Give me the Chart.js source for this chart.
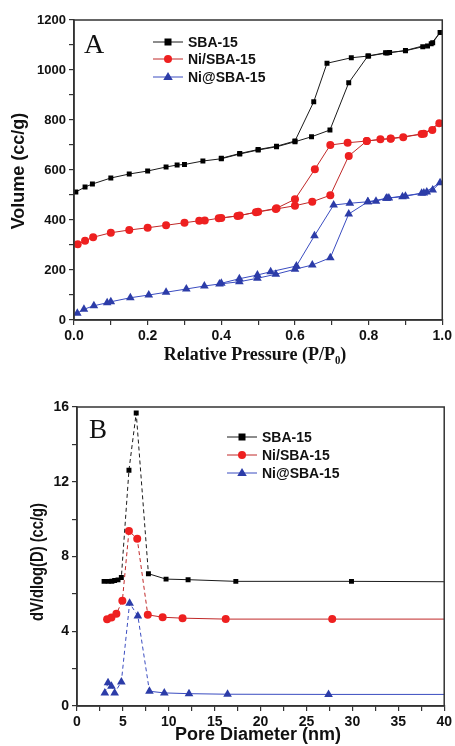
<!DOCTYPE html>
<html>
<head>
<meta charset="utf-8">
<script src="https://cdn.jsdelivr.net/npm/chart.js@4/dist/chart.umd.min.js"></script>
<style>
html,body{margin:0;padding:0;background:#fff;}
#wrap{position:relative;width:455px;height:746px;}
canvas{position:absolute;left:0;}
#cA{top:0;}
#cB{top:370px;}
</style>
</head>
<body>
<div id="wrap">
<canvas id="cA" width="455" height="370"></canvas>
<canvas id="cB" width="455" height="376"></canvas>
</div>
<script>
// ---------- Data: panel A (N2 isotherms; adsorption then desorption) ----------
const seriesNames = ['SBA-15', 'Ni/SBA-15', 'Ni@SBA-15'];

const sbaP = [0.005,0.03,0.05,0.1,0.15,0.2,0.25,0.28,0.3,0.35,0.4,0.45,0.5,0.55,0.6,0.645,0.695,0.746,0.798,0.846,0.857,0.9,0.947,0.96,0.974,0.994,
              0.97,0.9,0.85,0.8,0.753,0.687,0.651,0.6,0.55,0.5,0.45,0.4];
const sbaV = [512,532,544,568,584,596,612,620,622,636,645,664,680,693,713,733,760,949,1056,1069,1070,1077,1093,1096,1109,1150,
              1105,1078,1068,1056,1049,1027,873,716,695,682,666,647];

const niP = [0.01,0.03,0.052,0.1,0.15,0.2,0.25,0.3,0.34,0.355,0.393,0.444,0.494,0.548,0.6,0.647,0.696,0.746,0.795,0.832,0.86,0.894,0.944,0.973,0.992,
             0.95,0.86,0.795,0.743,0.696,0.654,0.6,0.55,0.5,0.45,0.4];
const niV = [303,317,331,349,360,369,379,389,397,398,407,416,431,444,457,473,499,656,716,723,725,731,744,760,787,
             745,726,716,709,700,603,483,447,433,418,408];

const atP = [0.009,0.027,0.054,0.09,0.1,0.153,0.203,0.25,0.305,0.354,0.395,0.449,0.498,0.548,0.6,0.647,0.696,0.746,0.798,0.82,0.848,0.855,0.892,0.9,0.944,0.958,0.974,0.994,
             0.95,0.85,0.798,0.749,0.705,0.653,0.604,0.534,0.498,0.449,0.4];
const atV = [27,43,57,69,73,89,100,111,124,136,144,153,167,183,203,220,249,424,473,475,487,488,493,495,507,512,520,549,
             508,487,473,467,460,337,216,193,180,165,147];

// ---------- Data: panel B (pore size distribution) ----------
const sbaD  = [2.95,3.4,3.8,4.1,4.47,4.83,5.66,6.45,7.78,9.7,12.1,17.3,29.9,40];
const sbaDV = [6.67,6.67,6.68,6.72,6.75,6.88,12.62,15.68,7.08,6.79,6.76,6.67,6.67,6.65];
const niD   = [3.28,3.75,4.29,4.94,5.66,6.56,7.71,9.33,11.5,16.2,27.8,40];
const niDV  = [4.64,4.73,4.93,5.63,9.36,8.95,4.88,4.75,4.70,4.65,4.65,4.65];
const atD   = [3.03,3.38,3.75,4.1,4.83,5.73,6.63,7.89,9.51,12.2,16.4,27.4,40];
const atDV  = [0.70,1.24,1.06,0.70,1.29,5.50,4.82,0.79,0.70,0.66,0.63,0.62,0.62];

// ---------- Axis ticks ----------
const aXMajor = [0,0.2,0.4,0.6,0.8,1.0];
const aYMajor = [0,200,400,600,800,1000,1200];
const bXMajor = [0,5,10,15,20,25,30,35,40];
const bYMajor = [0,4,8,12,16];

// ---------- Styles ----------
const styles = [
  {fill:'#000000', line:'#1a1a1a', shape:'rect'},
  {fill:'#ee2020', line:'#c02828', shape:'circle'},
  {fill:'#2c3ca8', line:'#3a4cc0', shape:'triangle'}
];
const SANS = '"Liberation Sans", Arial, sans-serif';
const SERIF = '"Liberation Serif", "Times New Roman", serif';

function pts(xs, ys){ return xs.map((x,i)=>({x:x, y:ys[i]})); }
function isMajor(v, list){ return list.some(m => Math.abs(m - v) < 1e-6); }

function drawMarker(ctx, shape, x, y, color){
  ctx.save();
  ctx.fillStyle = color;
  ctx.beginPath();
  if (shape === 'rect') { ctx.rect(x-3.5, y-3.5, 7, 7); }
  else if (shape === 'circle') { ctx.arc(x, y, 4, 0, Math.PI*2); }
  else { const r = 5; ctx.moveTo(x, y-r); ctx.lineTo(x+r*0.95, y+r*0.6); ctx.lineTo(x-r*0.95, y+r*0.6); ctx.closePath(); }
  ctx.fill();
  ctx.restore();
}

function frameAndText(cfg){
  return {
    id:'frameText',
    afterDraw(chart){
      const ctx = chart.ctx, a = chart.chartArea;
      ctx.save();
      ctx.strokeStyle = '#333'; ctx.lineWidth = 1.5;
      ctx.strokeRect(a.left, a.top, a.right - a.left, a.bottom - a.top);
      // panel letter
      ctx.fillStyle = '#111';
      ctx.font = cfg.letterFont; ctx.textAlign = 'left'; ctx.textBaseline = 'alphabetic';
      ctx.fillText(cfg.letter, cfg.letterX, cfg.letterY);
      // legend
      cfg.legend.rows.forEach((ry, i) => {
        const st = styles[i];
        ctx.strokeStyle = st.line; ctx.lineWidth = 1;
        ctx.beginPath(); ctx.moveTo(cfg.legend.x0, ry); ctx.lineTo(cfg.legend.x1, ry); ctx.stroke();
        drawMarker(ctx, st.shape, (cfg.legend.x0 + cfg.legend.x1)/2, ry, st.fill);
        ctx.fillStyle = '#111'; ctx.font = 'bold 14px ' + SANS; ctx.textBaseline = 'middle';
        ctx.fillText(seriesNames[i], cfg.legend.tx, ry + 1);
      });
      // axis titles
      ctx.fillStyle = '#111';
      ctx.font = cfg.xTitleFont; ctx.textAlign = 'center'; ctx.textBaseline = 'middle';
      ctx.fillText(cfg.xTitle, cfg.xTitleX, cfg.xTitleY);
      ctx.translate(cfg.yTitleX, cfg.yTitleY); ctx.rotate(-Math.PI/2);
      ctx.scale(cfg.yTitleScale || 1, 1);
      ctx.font = cfg.yTitleFont;
      ctx.fillText(cfg.yTitle, 0, 0);
      ctx.restore();
    }
  };
}

function makeDatasets(groups, dashed){
  return groups.map((g, i) => ({
    label: seriesNames[i],
    data: pts(g[0], g[1]),
    showLine: true,
    borderColor: styles[i].line,
    backgroundColor: styles[i].fill,
    borderWidth: 1,
    pointStyle: styles[i].shape,
    pointRadius: c => (c.raw && c.raw.x >= 40) ? 0 : (styles[i].shape === 'rect' ? 3.5 : (styles[i].shape === 'circle' ? 4 : 5)),
    pointBorderWidth: 0,
    pointBorderColor: styles[i].fill,
    segment: dashed ? { borderDash: c => (c.p0.parsed.x < 8 && c.p1.parsed.x < 9) ? [4,3] : undefined } : undefined,
    tension: 0
  }));
}

function axisCommon(){
  return {
    grid: {drawOnChartArea:false, drawTicks:true, tickLength:5, color:'#333', lineWidth:1.2},
    border: {color:'#333', width:1.5},
  };
}

Chart.defaults.font.family = SANS;
Chart.defaults.color = '#111';

// ---------- Chart A ----------
new Chart(document.getElementById('cA'), {
  type: 'scatter',
  data: { datasets: makeDatasets([[sbaP,sbaV],[niP,niV],[atP,atV]], false) },
  options: {
    responsive:false, animation:false, devicePixelRatio:1,
    layout:{padding:{top:20, right:11, left:0, bottom:0}},
    plugins:{legend:{display:false}, tooltip:{enabled:false}},
    scales:{
      x: Object.assign(axisCommon(), {
        type:'linear', min:0, max:1,
        afterFit(s){ s.height = 50; },
        ticks:{stepSize:0.1, autoSkip:false, maxRotation:0, padding:3, color:'#111',
               font:{size:14, weight:'bold'},
               callback: v => isMajor(v, aXMajor) ? v.toFixed(1) : ''}
      }),
      y: Object.assign(axisCommon(), {
        min:0, max:1200,
        afterFit(s){ s.width = 74; },
        ticks:{stepSize:100, autoSkip:false, padding:3, color:'#111',
               font:{size:13, weight:'bold'},
               callback: v => isMajor(v, aYMajor) ? String(Math.round(v)) : ''}
      })
    }
  },
  plugins:[frameAndText({
    letter:'A', letterFont:'28px ' + SERIF, letterX:84, letterY:53,
    legend:{x0:153, x1:183, tx:188, rows:[42,59,77]},
    xTitle:'Relative Pressure (P/P\u2080)', xTitleFont:'bold 18px ' + SERIF, xTitleX:255, xTitleY:355,
    yTitle:'Volume (cc/g)', yTitleFont:'bold 18px ' + SANS, yTitleX:19, yTitleY:171
  })]
});

// ---------- Chart B ----------
new Chart(document.getElementById('cB'), {
  type: 'scatter',
  data: { datasets: makeDatasets([[sbaD,sbaDV],[niD,niDV],[atD,atDV]], true) },
  options: {
    responsive:false, animation:false, devicePixelRatio:1,
    layout:{padding:{top:37, right:8, left:0, bottom:0}},
    plugins:{legend:{display:false}, tooltip:{enabled:false}},
    scales:{
      x: Object.assign(axisCommon(), {
        type:'linear', min:0, max:40,
        afterFit(s){ s.height = 40; },
        ticks:{stepSize:2.5, autoSkip:false, maxRotation:0, padding:3, color:'#111',
               font:{size:14, weight:'bold'},
               callback: v => isMajor(v, bXMajor) ? String(Math.round(v)) : ''}
      }),
      y: Object.assign(axisCommon(), {
        min:0, max:16,
        afterFit(s){ s.width = 77; },
        ticks:{stepSize:2, autoSkip:false, padding:3, color:'#111',
               font:{size:14, weight:'bold'},
               callback: v => isMajor(v, bYMajor) ? String(Math.round(v)) : ''}
      })
    }
  },
  plugins:[frameAndText({
    letter:'B', letterFont:'27px ' + SERIF, letterX:89, letterY:68,
    legend:{x0:227, x1:257, tx:262, rows:[67,85,103]},
    xTitle:'Pore Diameter (nm)', xTitleFont:'bold 18px ' + SANS, xTitleX:258, xTitleY:365,
    yTitle:'dV/dlog(D) (cc/g)', yTitleFont:'bold 18px ' + SANS, yTitleX:38, yTitleY:192, yTitleScale:0.82
  })]
});
</script>
</body>
</html>
